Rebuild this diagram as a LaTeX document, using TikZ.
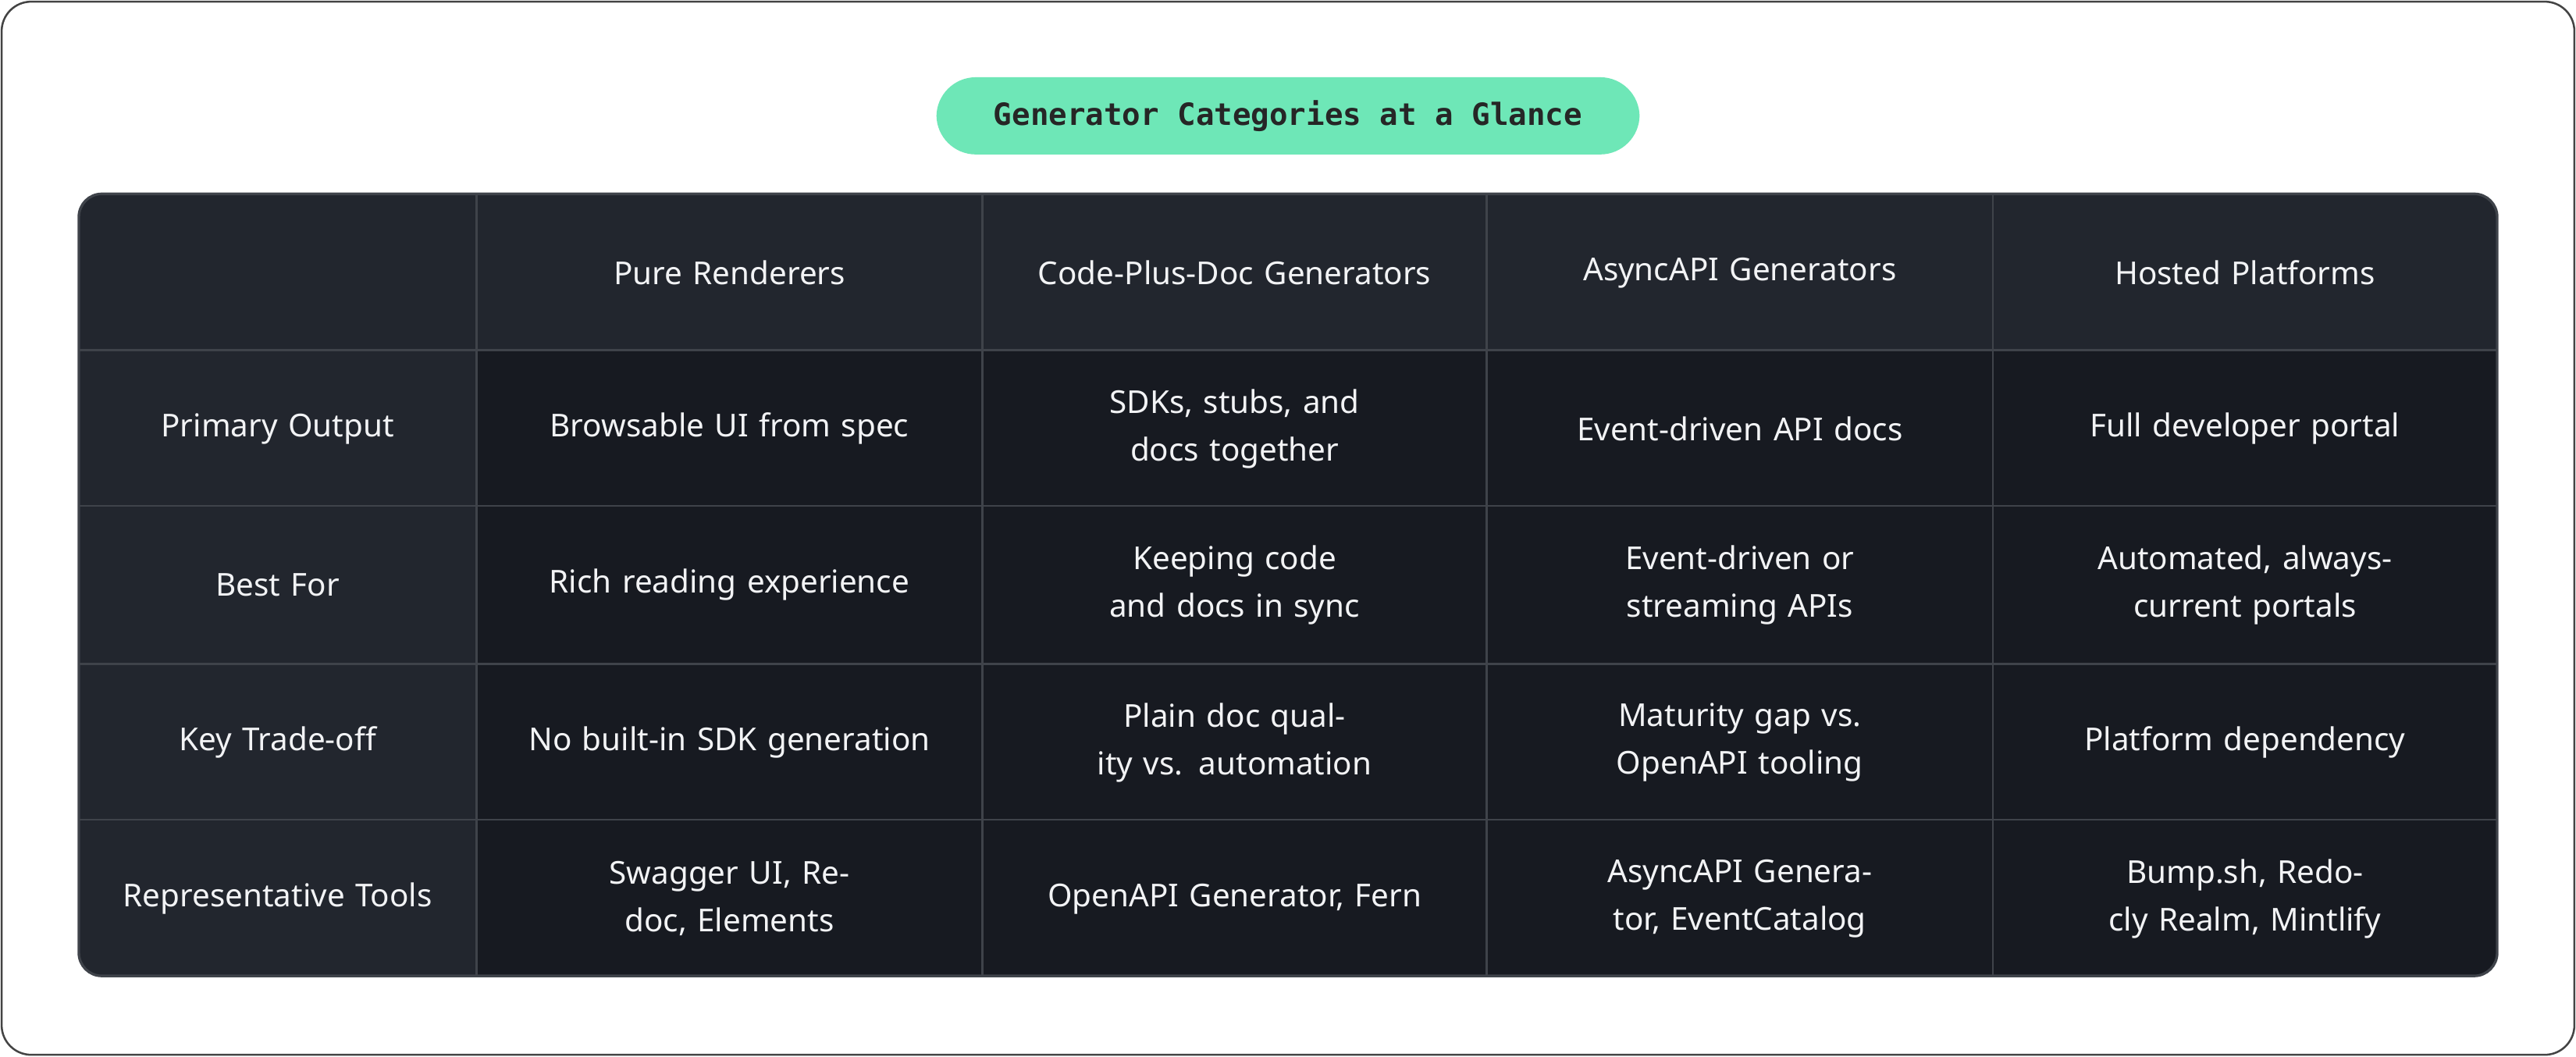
\documentclass[tikz,border=0pt]{standalone}
\usepackage{fontspec}
\setmainfont{Noto Sans}
\newfontfamily\titlefont{DejaVu Sans Mono}
\definecolor{pill}{HTML}{6EE7B7}
\definecolor{hdr}{HTML}{22262E}
\definecolor{body}{HTML}{171A21}
\definecolor{grid}{HTML}{3F434A}
\definecolor{frame}{HTML}{444444}
\definecolor{ink}{HTML}{F2F3F5}
\begin{document}
\begin{tikzpicture}[x=0.5pt,y=-0.5pt,
  cell/.style={text=ink,align=center,font=\fontsize{9.6}{14.5}\selectfont,text width=130pt},
  head/.style={cell,font=\fontsize{9.6}{14.5}\selectfont\bfseries}]
\useasboundingbox (0,0) rectangle (1568,643);
\draw[frame,line width=0.6pt,rounded corners=9pt,fill=white] (1,1) rectangle (1567,642);
\node[fill=pill,rounded corners=12pt,minimum width=214pt,minimum height=23.5pt,inner sep=0pt,
  font=\titlefont\bfseries\fontsize{9.3}{11}\selectfont,text=black!85] (title) at (784,70.5) {Generator Categories at a Glance};
\begin{scope}
\clip[rounded corners=7pt] (48,118) rectangle (1520,594);
\fill[body] (48,118) rectangle (1520,594);
\fill[hdr] (48,118) rectangle (1520,213);
\fill[hdr] (48,118) rectangle (290,594);
\foreach \x in {290,598,905,1213} \draw[grid,line width=0.6pt] (\x,118) -- (\x,594);
\foreach \y in {213,308,404,499} \draw[grid,line width=0.6pt] (48,\y) -- (1520,\y);
\end{scope}
\draw[grid,line width=0.8pt,rounded corners=7pt] (48,118) rectangle (1520,594);
% header
\node[head] (h1) at (444,166) {Pure Renderers};
\node[head] (h2) at (751.5,166) {Code-Plus-Doc Generators};
\node[head] (h3) at (1059,166) {AsyncAPI Generators};
\node[head] (h4) at (1366.5,166) {Hosted Platforms};
% row labels
\node[head] (r1) at (169,261) {Primary Output};
\node[head] (r2) at (169,356) {Best For};
\node[head] (r3) at (169,452) {Key Trade-off};
\node[head] (r4) at (169,547) {Representative Tools};
% row 1
\node[cell] (c11) at (444,261) {Browsable UI from spec};
\node[cell] (c12) at (751.5,261) {SDKs, stubs, and docs together};
\node[cell] (c13) at (1059,261) {Event-driven API docs};
\node[cell] (c14) at (1366.5,261) {Full developer portal};
% row 2
\node[cell] (c21) at (444,356) {Rich reading experience};
\node[cell] (c22) at (751.5,356) {Keeping code and docs in sync};
\node[cell] (c23) at (1059,356) {Event-driven or streaming APIs};
\node[cell] (c24) at (1366.5,356) {Automated, always-current portals};
% row 3
\node[cell] (c31) at (444,452) {No built-in SDK generation};
\node[cell] (c32) at (751.5,452) {Plain doc quality vs. automation};
\node[cell] (c33) at (1059,452) {Maturity gap vs. OpenAPI tooling};
\node[cell] (c34) at (1366.5,452) {Platform dependency};
% row 4
\node[cell] (c41) at (444,547) {Swagger UI, Redoc, Elements};
\node[cell] (c42) at (751.5,547) {OpenAPI Generator, Fern};
\node[cell] (c43) at (1059,547) {AsyncAPI Generator, EventCatalog};
\node[cell] (c44) at (1366.5,547) {Bump.sh, Redocly Realm, Mintlify};
\end{tikzpicture}
\end{document}
